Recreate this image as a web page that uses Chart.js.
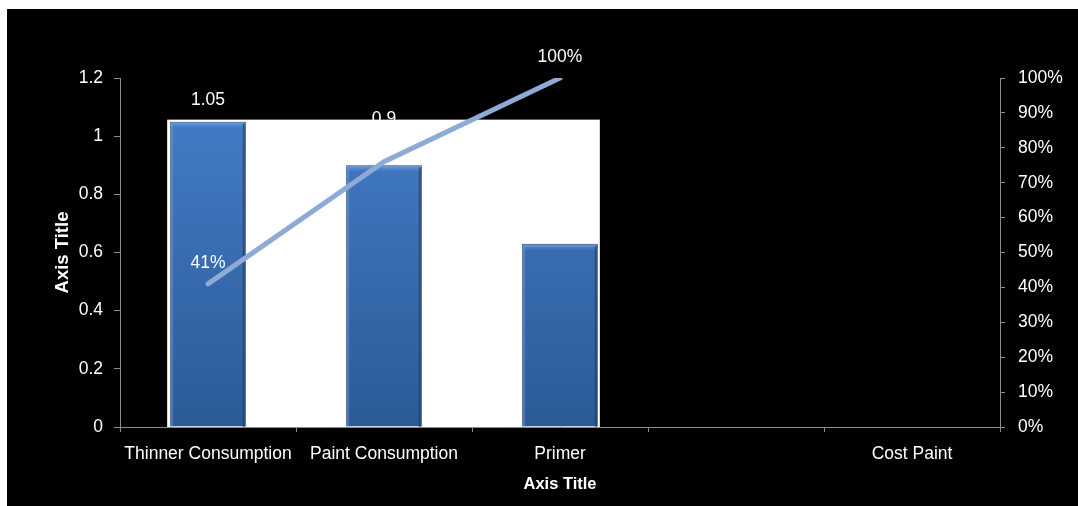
<!DOCTYPE html>
<html>
<head>
<meta charset="utf-8">
<script src="https://cdn.jsdelivr.net/npm/chart.js@4"></script>
<style>
  body { margin: 0; background: #fff; }
  #wrap { position: absolute; left: 7px; top: 9px; width: 1071px; height: 497px; background: #000; }
</style>
</head>
<body>
<div id="wrap"><canvas id="pareto" width="1071" height="497"></canvas></div>
<script>
// Chart data
const categories = ['Thinner Consumption', 'Paint Consumption', 'Primer', '', 'Cost Paint'];
const consumption = [1.05, 0.9, 0.63, null, null];
const cumulativeShare = [0.41, 0.76, 1.0, null, null];
const leftTicks = [0, 0.2, 0.4, 0.6, 0.8, 1, 1.2];
const rightTicks = [0, 0.1, 0.2, 0.3, 0.4, 0.5, 0.6, 0.7, 0.8, 0.9, 1.0];

const FONT = "'Liberation Sans', Arial, sans-serif";
const AXIS_GREY = '#8c8c8c';

// white panel behind the bars (as in the source picture)
const backPanel = {
  id: 'backPanel',
  beforeDatasetsDraw(chart) {
    const bars = chart.getDatasetMeta(0).data.filter((b, i) => consumption[i] != null);
    if (!bars.length) return;
    const left = Math.min(...bars.map(b => b.x - b.width / 2)) - 3;
    const right = Math.max(...bars.map(b => b.x + b.width / 2)) + 2;
    const top = Math.min(...bars.map(b => b.y)) - 2;
    const ctx = chart.ctx;
    ctx.save();
    ctx.fillStyle = '#fff';
    ctx.fillRect(left, top, right - left, chart.chartArea.bottom - top);
    ctx.restore();
  }
};

// bevel look on the bars: light top edge, dark right edge
const barBevel = {
  id: 'barBevel',
  afterDatasetDraw(chart, args) {
    if (args.index !== 0) return;
    const ctx = chart.ctx;
    const bottom = chart.chartArea.bottom;
    ctx.save();
    args.meta.data.forEach((b, i) => {
      if (consumption[i] == null) return;
      const l = b.x - b.width / 2, r = b.x + b.width / 2;
      const top = ctx.createLinearGradient(0, b.y, 0, b.y + 7);
      top.addColorStop(0, 'rgba(130,175,235,0.9)');
      top.addColorStop(1, 'rgba(80,130,205,0)');
      ctx.fillStyle = top;
      ctx.fillRect(l + 1, b.y + 1, b.width - 2, 7);
      ctx.fillStyle = 'rgba(20,45,80,0.55)';
      ctx.fillRect(r - 3, b.y + 2, 2, bottom - b.y - 2);
      ctx.fillStyle = 'rgba(120,160,220,0.35)';
      ctx.fillRect(l + 1, b.y + 2, 2, bottom - b.y - 2);
    });
    ctx.restore();
  }
};

// value labels, white text
const valueLabels = {
  id: 'valueLabels',
  afterDatasetsDraw(chart) {
    const ctx = chart.ctx;
    const barLift = [21, 46, 21];
    ctx.save();
    ctx.fillStyle = '#fff';
    ctx.font = '17.5px ' + FONT;
    ctx.textAlign = 'center';
    ctx.textBaseline = 'middle';
    chart.getDatasetMeta(0).data.forEach((b, i) => {
      if (consumption[i] == null) return;
      ctx.fillText(String(consumption[i]), b.x, b.y - (barLift[i] || 21));
    });
    chart.getDatasetMeta(1).data.forEach((p, i) => {
      if (cumulativeShare[i] == null) return;
      ctx.fillText(Math.round(cumulativeShare[i] * 100) + '%', p.x, p.y - 21);
    });
    ctx.restore();
  }
};

function barGradient(context) {
  const { ctx, chartArea } = context.chart;
  if (!chartArea) return '#3a6fb5';
  const g = ctx.createLinearGradient(0, chartArea.top, 0, chartArea.bottom);
  g.addColorStop(0, '#467fca');
  g.addColorStop(1, '#2b5a97');
  return g;
}

new Chart(document.getElementById('pareto'), {
  data: {
    labels: categories,
    datasets: [
      {
        type: 'bar',
        data: consumption,
        yAxisID: 'y',
        backgroundColor: barGradient,
        borderColor: '#1e3d66',
        borderWidth: 1,
        barPercentage: 0.43,
        categoryPercentage: 1,
        order: 2
      },
      {
        type: 'line',
        data: cumulativeShare,
        yAxisID: 'y1',
        borderColor: '#8eaad6',
        borderWidth: 5,
        borderCapStyle: 'round',
        pointRadius: 0,
        spanGaps: false,
        order: 1
      }
    ]
  },
  options: {
    responsive: false,
    animation: false,
    layout: { padding: { top: 69 } },
    plugins: { legend: { display: false }, tooltip: { enabled: false } },
    scales: {
      x: {
        grid: { display: true, drawOnChartArea: false, offset: true, color: AXIS_GREY, tickLength: 5 },
        border: { color: AXIS_GREY },
        ticks: { color: '#fff', font: { family: FONT, size: 17.5 }, padding: 12, maxRotation: 0, autoSkip: false },
        title: { display: true, text: 'Axis Title', color: '#fff', font: { family: FONT, size: 16.5, weight: 'bold' }, padding: { top: 0, bottom: 12 } },
        afterFit: s => { s.height = 79; }
      },
      y: {
        position: 'left',
        min: 0,
        max: 1.2,
        afterBuildTicks: s => { s.ticks = leftTicks.map(v => ({ value: v })); },
        grid: { display: true, drawOnChartArea: false, color: AXIS_GREY, tickLength: 6 },
        border: { color: AXIS_GREY },
        ticks: { color: '#fff', font: { family: FONT, size: 17.5 }, padding: 11, callback: v => String(v) },
        title: { display: true, text: 'Axis Title', color: '#fff', font: { family: FONT, size: 18.5, weight: 'bold' }, padding: { top: 45, bottom: 0 } },
        afterFit: s => { s.width = 113; }
      },
      y1: {
        position: 'right',
        min: 0,
        max: 1,
        afterBuildTicks: s => { s.ticks = rightTicks.map(v => ({ value: v })); },
        grid: { display: true, drawOnChartArea: false, color: AXIS_GREY, tickLength: 5 },
        border: { color: AXIS_GREY },
        ticks: { color: '#fff', font: { family: FONT, size: 17.5 }, padding: 13, callback: v => Math.round(v * 100) + '%' },
        afterFit: s => { s.width = 78; }
      }
    }
  },
  plugins: [backPanel, barBevel, valueLabels]
});
</script>
</body>
</html>
